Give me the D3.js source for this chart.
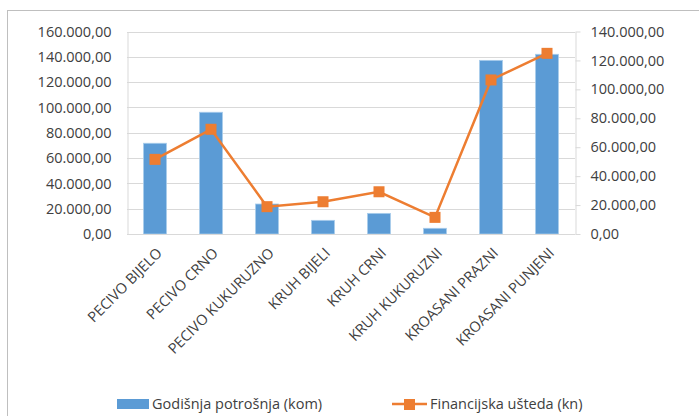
<!DOCTYPE html>
<html>
<head>
<meta charset="utf-8">
<script src="https://cdn.jsdelivr.net/npm/d3@7"></script>
<style>
  body { margin: 0; background: #fff; }
  text { font-family: "Open Sans", sans-serif; fill: #404040; }
</style>
</head>
<body>
<div id="chart"></div>
<script>
const categories = ["PECIVO BIJELO", "PECIVO CRNO", "PECIVO KUKURUZNO", "KRUH BIJELI",
  "KRUH CRNI", "KRUH KUKURUZNI", "KROASANI PRAZNI", "KROASANI PUNJENI"]
const consumption = [71700, 96200, 23700, 10800, 16300, 4500, 137200, 142000]
const savings = [51600, 72400, 18900, 22300, 29200, 11500, 106500, 124900]
const leftTicks = [0, 20000, 40000, 60000, 80000, 100000, 120000, 140000, 160000]
const rightTicks = [0, 20000, 40000, 60000, 80000, 100000, 120000, 140000]
const seriesNames = ["Godišnja potrošnja (kom)", "Financijska ušteda (kn)"]

const barColor = "#5b9bd5"
const lineColor = "#ed7d31"
const gridColor = "#d9d9d9"

const width = 699
const height = 416
const plot = { left: 127, right: 575, top: 31.5, bottom: 234 }

const fmt = v => d3.format(",.2f")(v).replace(/,/g, "#").replace(".", ",").replace(/#/g, ".")

const svg = d3.select("#chart").append("svg")
  .attr("width", width)
  .attr("height", height)

// outer chart border (runs off the right and bottom edge)
svg.append("rect")
  .attr("x", 7.5).attr("y", 10.5)
  .attr("width", 720).attr("height", 430)
  .attr("fill", "none")
  .attr("stroke", "#bfbfbf")

const xScale = d3.scaleBand()
  .domain(categories)
  .range([plot.left, plot.right])
  .paddingInner(0.59)
  .paddingOuter(0.295)

const yLeft = d3.scaleLinear().domain([0, 160000]).range([plot.bottom, plot.top])
const yRight = d3.scaleLinear().domain([0, 140000]).range([plot.bottom, plot.top])

// gridlines
svg.append("g")
  .selectAll("line")
  .data(leftTicks)
  .join("line")
    .attr("x1", plot.left).attr("x2", plot.right)
    .attr("y1", d => Math.round(yLeft(d)) + 0.5)
    .attr("y2", d => Math.round(yLeft(d)) + 0.5)
    .attr("stroke", gridColor)

// left axis
const leftAxis = svg.append("g")
  .attr("transform", `translate(${plot.left + 0.5},0)`)
  .call(d3.axisLeft(yLeft).tickValues(leftTicks).tickFormat(fmt).tickSize(0).tickPadding(16))
leftAxis.select(".domain").attr("stroke", gridColor)
leftAxis.selectAll("text").style("font-size", "14.5px").attr("fill", "#404040")

// right axis
const rightAxis = svg.append("g")
  .attr("transform", `translate(${plot.right + 0.5},0)`)
  .call(d3.axisRight(yRight).tickValues(rightTicks).tickFormat(fmt).tickSize(5).tickSizeOuter(0).tickPadding(10))
rightAxis.select(".domain").attr("stroke", gridColor)
rightAxis.selectAll(".tick line").attr("stroke", gridColor)
rightAxis.selectAll("text").style("font-size", "14.5px").attr("fill", "#404040")

// bars
svg.append("g")
  .selectAll("rect")
  .data(categories)
  .join("rect")
    .attr("x", d => xScale(d))
    .attr("width", xScale.bandwidth())
    .attr("y", (d, i) => yLeft(consumption[i]))
    .attr("height", (d, i) => plot.bottom - yLeft(consumption[i]))
    .attr("fill", barColor)
    .attr("stroke", "#a9cdec")
    .attr("stroke-width", 0.8)

// bottom axis line
svg.append("line")
  .attr("x1", plot.left).attr("x2", plot.right)
  .attr("y1", plot.bottom + 0.5).attr("y2", plot.bottom + 0.5)
  .attr("stroke", gridColor)

// category labels
const cx = d => xScale(d) + xScale.bandwidth() / 2
svg.append("g")
  .selectAll("text")
  .data(categories)
  .join("text")
    .attr("transform", d => `translate(${cx(d) + 8},${plot.bottom + 20}) rotate(-45)`)
    .attr("text-anchor", "end")
    .style("font-size", "14.5px")
    .text(d => d)

// line series
const line = d3.line()
  .x(d => cx(d.cat))
  .y(d => yRight(d.v))
const linePoints = categories.map((c, i) => ({ cat: c, v: savings[i] }))

svg.append("path")
  .attr("d", line(linePoints))
  .attr("fill", "none")
  .attr("stroke", lineColor)
  .attr("stroke-width", 2.5)

svg.append("g")
  .selectAll("rect")
  .data(linePoints)
  .join("rect")
    .attr("x", d => cx(d.cat) - 5.5)
    .attr("y", d => yRight(d.v) - 5.5)
    .attr("width", 11).attr("height", 11)
    .attr("fill", lineColor)

// legend
const legend = svg.append("g")
legend.append("rect")
  .attr("x", 117).attr("y", 399)
  .attr("width", 32).attr("height", 10)
  .attr("fill", barColor)
legend.append("text")
  .attr("x", 152).attr("y", 409)
  .style("font-size", "14.5px")
  .text(seriesNames[0])

legend.append("line")
  .attr("x1", 392).attr("x2", 427)
  .attr("y1", 404).attr("y2", 404)
  .attr("stroke", lineColor)
  .attr("stroke-width", 2.5)
legend.append("rect")
  .attr("x", 404).attr("y", 399)
  .attr("width", 11).attr("height", 11)
  .attr("fill", lineColor)
legend.append("text")
  .attr("x", 430).attr("y", 409)
  .style("font-size", "14.5px")
  .text(seriesNames[1])
</script>
</body>
</html>
